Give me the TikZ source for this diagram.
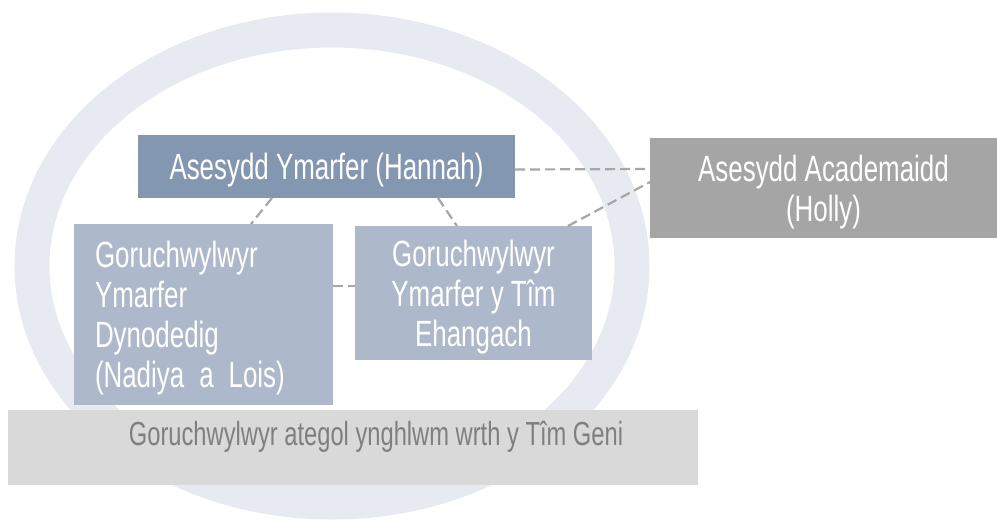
\documentclass[tikz,border=0pt]{standalone}
\usepackage{fontspec}
\setmainfont{Liberation Sans}
\newfontfamily\boxfont[FakeStretch=0.71]{Liberation Sans}
\usetikzlibrary{calc}
\definecolor{ringcol}{HTML}{E7EBF1}
\definecolor{hannahcol}{HTML}{8497B0}
\definecolor{hollycol}{HTML}{A5A5A5}
\definecolor{supcol}{HTML}{ADB9CA}
\definecolor{bottomcol}{HTML}{D9D9D9}
\definecolor{bottomtext}{HTML}{7F7F7F}
\definecolor{dashcol}{HTML}{A6A6A6}
\tikzset{
  boxbase/.style={rectangle, inner sep=0pt, outer sep=0pt, text=white,
    font={\boxfont\fontsize{36.5}{40}\selectfont}, align=center, anchor=north west},
  box/.style={boxbase, text depth=0pt},
  conn/.style={draw=dashcol, line width=2.2pt, dash pattern=on 10pt off 5pt},
}
\begin{document}
\begin{tikzpicture}[x=1pt,y=-1pt]
\useasboundingbox (0,0) rectangle (997,520);
% ring
\draw[ringcol, line width=35pt] (332,266) ellipse [x radius=300, y radius=236];
% boxes
\node[box, fill=hannahcol, minimum width=377pt, minimum height=63pt] (hannah) at (138,135) {Asesydd Ymarfer (Hannah)};
\node[box, fill=hollycol, minimum width=347pt, minimum height=100pt] (holly) at (650,138) {Asesydd Academaidd\\(Holly)};
\node[boxbase, fill=supcol, minimum height=181pt, text width=217pt, inner xsep=21pt, align=left, text depth=120pt] (nadiya) at (74,224) {\spaceskip=15pt\xspaceskip=15pt Goruchwylwyr\\Ymarfer\\Dynodedig\\(Nadiya a Lois)};
\node[box, fill=supcol, minimum width=237pt, minimum height=134pt] (team) at (355,226) {Goruchwylwyr\\Ymarfer y Tîm\\Ehangach};
\node[box, fill=bottomcol, minimum width=690pt, minimum height=75pt] (bottom) at (8,410) {};
\node[anchor=base, inner sep=0pt, text=bottomtext, font={\boxfont\fontsize{33.4}{36}\selectfont}] (bottomlabel) at ($(bottom.north west)+(368,35)$) {Goruchwylwyr ategol ynghlwm wrth y Tîm Geni};
% connectors
\draw[conn] ($(hannah.east)+(0,3)$) -- ($(holly.west)+(0,-19)$);
\draw[conn] ($(team.north east)+(-24,0)$) -- ($(holly.west)+(0,-6)$);
\draw[conn] ($(hannah.south west)+(134,0)$) -- ($(nadiya.north west)+(177,0)$);
\draw[conn] ($(hannah.south west)+(300,0)$) -- ($(team.north west)+(102,0)$);
\draw[conn] ($(nadiya.north east)+(0,62)$) -- ($(team.north west)+(0,60)$);
\end{tikzpicture}
\end{document}
